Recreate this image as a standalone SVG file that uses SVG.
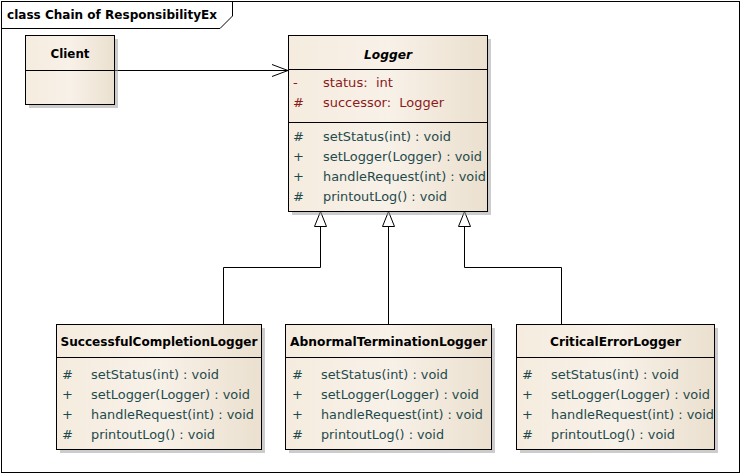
<svg xmlns="http://www.w3.org/2000/svg" width="741" height="475" viewBox="0 0 741 475">
<style>
text{font-family:"DejaVu Sans","Liberation Sans",sans-serif;font-size:13px;white-space:pre}
.name{font-weight:bold;fill:#000;text-anchor:middle;font-size:12.5px}
.attr{fill:#8B1A1A}
.op{fill:#1F4A4C}
.box{fill:url(#g);stroke:#000;stroke-width:1}
.sh{fill:#9a9a9a;opacity:0.5}
.ln{stroke:#000;stroke-width:1;fill:none}
.conn{stroke:#000;stroke-width:1;fill:none}
</style>
<defs>
<linearGradient id="g" x1="0" y1="0" x2="1" y2="0">
<stop offset="0" stop-color="#F5ECDF"/>
<stop offset="0.5" stop-color="#F8F1E8"/>
<stop offset="1" stop-color="#EBE0CF"/>
</linearGradient>
<marker id="open" markerWidth="18" markerHeight="14" refX="17" refY="7" orient="auto" markerUnits="userSpaceOnUse">
<path d="M1,1 L17,7 L1,13" fill="none" stroke="#000" stroke-width="1"/>
</marker>
</defs>
<rect x="0" y="0" width="741" height="475" fill="#fff"/>
<g id="frame">
<rect x="1.5" y="1.5" width="738" height="471" fill="none" stroke="#000"/>
<path d="M1.5,28.5 H220 L232.5,16 V1.5" class="ln"/>
<text x="7" y="19" font-weight="bold" font-size="12.5" textLength="210" lengthAdjust="spacingAndGlyphs">class Chain of ResponsibilityEx</text>
</g>
<g id="connectors">
<line x1="115" y1="70.5" x2="288" y2="70.5" class="conn" marker-end="url(#open)"/>
<path d="M320.5,226 V267.5 H223.5 V324" class="conn"/>
<path d="M388.5,226 V324" class="conn"/>
<path d="M464.5,226 V267.5 H561.5 V324" class="conn"/>
<path d="M314.5,226.5 L320.5,211.5 L326.5,226.5 Z" fill="#fff" stroke="#000"/>
<path d="M382.5,226.5 L388.5,211.5 L394.5,226.5 Z" fill="#fff" stroke="#000"/>
<path d="M458.5,226.5 L464.5,211.5 L470.5,226.5 Z" fill="#fff" stroke="#000"/>
</g>
<g id="client">
<rect x="29" y="39" width="89" height="69" class="sh"/>
<rect x="25.5" y="35.5" width="89" height="69" class="box"/>
<line x1="25.5" y1="70.5" x2="114.5" y2="70.5" class="ln"/>
<text x="70" y="58" class="name" textLength="39" lengthAdjust="spacingAndGlyphs">Client</text>
</g>
<g id="logger">
<rect x="292" y="39" width="199" height="176" class="sh"/>
<rect x="288.5" y="35.5" width="199" height="176" class="box"/>
<line x1="288.5" y1="69.5" x2="487.5" y2="69.5" class="ln"/>
<line x1="288.5" y1="122.5" x2="487.5" y2="122.5" class="ln"/>
<text x="388" y="58.5" class="name" font-style="italic" textLength="48" lengthAdjust="spacingAndGlyphs">Logger</text>
<text x="293" y="87" class="attr">-</text>
<text x="323" y="87" class="attr" textLength="70" lengthAdjust="spacingAndGlyphs">status:  int</text>
<text x="293" y="107" class="attr">#</text>
<text x="323" y="107" class="attr" textLength="121" lengthAdjust="spacingAndGlyphs">successor:  Logger</text>
<text x="293" y="141" class="op">#</text>
<text x="323" y="141" class="op" textLength="128" lengthAdjust="spacingAndGlyphs">setStatus(int) : void</text>
<text x="293" y="161" class="op">+</text>
<text x="323" y="161" class="op" textLength="159" lengthAdjust="spacingAndGlyphs">setLogger(Logger) : void</text>
<text x="293" y="181" class="op">+</text>
<text x="323" y="181" class="op" textLength="163" lengthAdjust="spacingAndGlyphs">handleRequest(int) : void</text>
<text x="293" y="201" class="op">#</text>
<text x="323" y="201" class="op" textLength="124" lengthAdjust="spacingAndGlyphs">printoutLog() : void</text>
</g>
<g id="successful">
<rect x="60" y="328" width="205" height="125" class="sh"/>
<rect x="56.5" y="324.5" width="205" height="125" class="box"/>
<line x1="56.5" y1="357.5" x2="261.5" y2="357.5" class="ln"/>
<text x="159" y="346" class="name" textLength="197" lengthAdjust="spacingAndGlyphs">SuccessfulCompletionLogger</text>
<text x="62" y="379" class="op">#</text>
<text x="91" y="379" class="op" textLength="128" lengthAdjust="spacingAndGlyphs">setStatus(int) : void</text>
<text x="62" y="399" class="op">+</text>
<text x="91" y="399" class="op" textLength="159" lengthAdjust="spacingAndGlyphs">setLogger(Logger) : void</text>
<text x="62" y="419" class="op">+</text>
<text x="91" y="419" class="op" textLength="163" lengthAdjust="spacingAndGlyphs">handleRequest(int) : void</text>
<text x="62" y="439" class="op">#</text>
<text x="91" y="439" class="op" textLength="124" lengthAdjust="spacingAndGlyphs">printoutLog() : void</text>
</g>
<g id="abnormal">
<rect x="289" y="328" width="206" height="125" class="sh"/>
<rect x="285.5" y="324.5" width="206" height="125" class="box"/>
<line x1="285.5" y1="357.5" x2="491.5" y2="357.5" class="ln"/>
<text x="388.5" y="346" class="name" textLength="197" lengthAdjust="spacingAndGlyphs">AbnormalTerminationLogger</text>
<text x="292" y="379" class="op">#</text>
<text x="321" y="379" class="op" textLength="127" lengthAdjust="spacingAndGlyphs">setStatus(int) : void</text>
<text x="292" y="399" class="op">+</text>
<text x="321" y="399" class="op" textLength="158" lengthAdjust="spacingAndGlyphs">setLogger(Logger) : void</text>
<text x="292" y="419" class="op">+</text>
<text x="321" y="419" class="op" textLength="162" lengthAdjust="spacingAndGlyphs">handleRequest(int) : void</text>
<text x="292" y="439" class="op">#</text>
<text x="321" y="439" class="op" textLength="123" lengthAdjust="spacingAndGlyphs">printoutLog() : void</text>
</g>
<g id="critical">
<rect x="520" y="328" width="198" height="125" class="sh"/>
<rect x="516.5" y="324.5" width="198" height="125" class="box"/>
<line x1="516.5" y1="357.5" x2="714.5" y2="357.5" class="ln"/>
<text x="615.5" y="346" class="name" textLength="131" lengthAdjust="spacingAndGlyphs">CriticalErrorLogger</text>
<text x="522" y="379" class="op">#</text>
<text x="551" y="379" class="op" textLength="128" lengthAdjust="spacingAndGlyphs">setStatus(int) : void</text>
<text x="522" y="399" class="op">+</text>
<text x="551" y="399" class="op" textLength="159" lengthAdjust="spacingAndGlyphs">setLogger(Logger) : void</text>
<text x="522" y="419" class="op">+</text>
<text x="551" y="419" class="op" textLength="163" lengthAdjust="spacingAndGlyphs">handleRequest(int) : void</text>
<text x="522" y="439" class="op">#</text>
<text x="551" y="439" class="op" textLength="124" lengthAdjust="spacingAndGlyphs">printoutLog() : void</text>
</g>
</svg>
